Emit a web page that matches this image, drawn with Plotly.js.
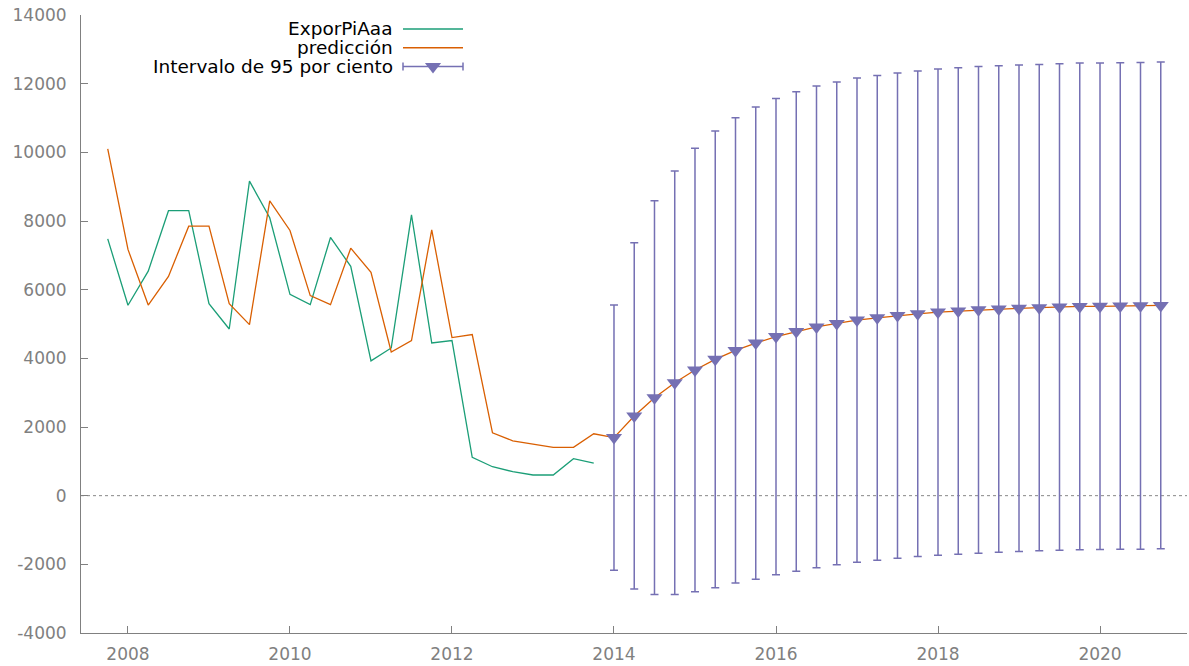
<!DOCTYPE html>
<html>
<head>
<meta charset="utf-8">
<script src="https://cdn.plot.ly/plotly-3.0.1.min.js"></script>
<style>html,body{margin:0;padding:0;background:#fff;}#chart{width:1189px;height:666px;}</style>
</head>
<body>
<div id="chart"></div>
<script>
// Observed quarters (year:quarter)
var obsQuarters = ["2007:4",
  "2008:1","2008:2","2008:3","2008:4",
  "2009:1","2009:2","2009:3","2009:4",
  "2010:1","2010:2","2010:3","2010:4",
  "2011:1","2011:2","2011:3","2011:4",
  "2012:1","2012:2","2012:3","2012:4",
  "2013:1","2013:2","2013:3","2013:4"];
var exporPiAaa = [7480, 5545, 6540, 8300, 8300, 5590, 4855, 9160, 8095, 5865, 5565, 7520, 6680,
  3925, 4302, 8180, 4448, 4518, 1116, 843, 698, 602, 602, 1076, 951];
var prediccionObs = [10099, 7172, 5553, 6387, 7849, 7849, 5593, 4982, 8587, 7724, 5826, 5564, 7209,
  6503, 4186, 4518, 7744, 4605, 4692, 1831, 1599, 1494, 1407, 1407, 1802];

// Forecast quarters
var fcQuarters = ["2014:1","2014:2","2014:3","2014:4",
  "2015:1","2015:2","2015:3","2015:4",
  "2016:1","2016:2","2016:3","2016:4",
  "2017:1","2017:2","2017:3","2017:4",
  "2018:1","2018:2","2018:3","2018:4",
  "2019:1","2019:2","2019:3","2019:4",
  "2020:1","2020:2","2020:3","2020:4"];
var forecast = [1692, 2322, 2855, 3290, 3659, 3970, 4231, 4445, 4633, 4784, 4914, 5016, 5114, 5180,
  5244, 5297, 5346, 5379, 5413, 5438, 5457, 5475, 5496, 5511, 5515, 5525, 5530, 5540];
var upper95 = [5552, 7366, 8587, 9459, 10117, 10622, 11009, 11320, 11570, 11765, 11930, 12047, 12163, 12238,
  12308, 12366, 12424, 12462, 12500, 12520, 12541, 12558, 12578, 12599, 12599, 12608, 12617, 12628];
var lower95 = [-2169, -2722, -2878, -2878, -2799, -2683, -2547, -2431, -2305, -2198, -2102, -2015, -1936, -1878,
  -1820, -1773, -1733, -1704, -1674, -1645, -1628, -1608, -1587, -1578, -1570, -1558, -1558, -1549];

var yTicks = [-4000, -2000, 0, 2000, 4000, 6000, 8000, 10000, 12000, 14000];
var xTicks = [2008, 2010, 2012, 2014, 2016, 2018, 2020];

var legendNames = ["ExporPiAaa", "predicción", "Intervalo de 95 por ciento"];
var colors = ["#1b9e77", "#d95f02", "#7570b3"];

function qToYear(q) { var p = q.split(":"); return +p[0] + (+p[1] - 1) / 4; }
var xObs = obsQuarters.map(qToYear);
var xFc = fcQuarters.map(qToYear);
var xAll = xObs.concat(xFc);
var prediccionAll = prediccionObs.concat(forecast);

var traces = [
  {x: xObs, y: exporPiAaa, type: "scatter", mode: "lines", name: legendNames[0],
   line: {color: colors[0], width: 1.3}, showlegend: false},
  {x: xAll, y: prediccionAll, type: "scatter", mode: "lines", name: legendNames[1],
   line: {color: colors[1], width: 1.3}, showlegend: false},
  {x: xFc, y: forecast, type: "scatter", mode: "markers", name: legendNames[2],
   marker: {symbol: "triangle-down", size: 14, color: colors[2], line: {width: 0}},
   error_y: {type: "data", symmetric: false,
     array: upper95.map(function (u, i) { return u - forecast[i]; }),
     arrayminus: lower95.map(function (l, i) { return forecast[i] - l; }),
     color: colors[2], thickness: 1.5, width: 4},
   showlegend: false}
];

// plot area geometry (pixels) for legend decorations
var L = 81, R = 1187, T = 15, B = 633;
var W = R - L, H = B - T;
function px(xp) { return (xp - L) / W; }
function py(yp) { return (B - yp) / H; }

var legendY = [29, 47.75, 66.5];
var textRight = 395, sampleL = 403, sampleR = 463;
var annotations = legendNames.map(function (n, i) {
  return {xref: "paper", yref: "paper", x: px(textRight), y: py(legendY[i]), xanchor: "right", yanchor: "middle",
          text: n, showarrow: false, font: {family: "DejaVu Sans", size: 18.5, color: "#000000"}};
});

var shapes = [
  {type: "line", xref: "paper", yref: "y", x0: 0, x1: 1, y0: 0, y1: 0,
   line: {color: "#888888", width: 1, dash: "dot"}, layer: "below"},
  {type: "line", xref: "paper", yref: "paper", x0: px(sampleL), x1: px(sampleR), y0: py(legendY[0]), y1: py(legendY[0]),
   line: {color: colors[0], width: 1.3}},
  {type: "line", xref: "paper", yref: "paper", x0: px(sampleL), x1: px(sampleR), y0: py(legendY[1]), y1: py(legendY[1]),
   line: {color: colors[1], width: 1.3}},
  {type: "line", xref: "paper", yref: "paper", x0: px(sampleL), x1: px(sampleR), y0: py(legendY[2]), y1: py(legendY[2]),
   line: {color: colors[2], width: 1.5}},
  {type: "line", xref: "paper", yref: "paper", x0: px(sampleL), x1: px(sampleL), y0: py(legendY[2] - 4), y1: py(legendY[2] + 4),
   line: {color: colors[2], width: 1.5}},
  {type: "line", xref: "paper", yref: "paper", x0: px(sampleR), x1: px(sampleR), y0: py(legendY[2] - 4), y1: py(legendY[2] + 4),
   line: {color: colors[2], width: 1.5}},
  {type: "path", xref: "paper", yref: "paper",
   path: "M " + px(433 - 8.1) + " " + py(legendY[2] - 3.5) + " L " + px(433 + 8.1) + " " + py(legendY[2] - 3.5) +
         " L " + px(433) + " " + py(legendY[2] + 7) + " Z",
   fillcolor: colors[2], line: {width: 0}}
];

var axisFont = {family: "DejaVu Sans", size: 17, color: "#808080"};
var layout = {
  width: 1189, height: 666,
  margin: {l: L, r: 1189 - R, t: T, b: 666 - B, pad: 0},
  paper_bgcolor: "#ffffff", plot_bgcolor: "#ffffff",
  showlegend: false,
  xaxis: {range: [2007.42, 2021.074], tickvals: xTicks, ticktext: xTicks.map(String),
          showgrid: false, zeroline: false, showline: true, linecolor: "#808080", linewidth: 1,
          ticks: "inside", ticklen: 7, tickcolor: "#808080", tickfont: axisFont, ticklabelstandoff: 6},
  yaxis: {range: [-4000, 14000], tickvals: yTicks, ticktext: yTicks.map(String),
          showgrid: false, zeroline: false, showline: true, linecolor: "#808080", linewidth: 1,
          ticks: "inside", ticklen: 7, tickcolor: "#808080", tickfont: axisFont, ticklabelstandoff: 10},
  annotations: annotations,
  shapes: shapes
};

Plotly.newPlot("chart", traces, layout, {displayModeBar: false, staticPlot: true});
</script>
</body>
</html>
